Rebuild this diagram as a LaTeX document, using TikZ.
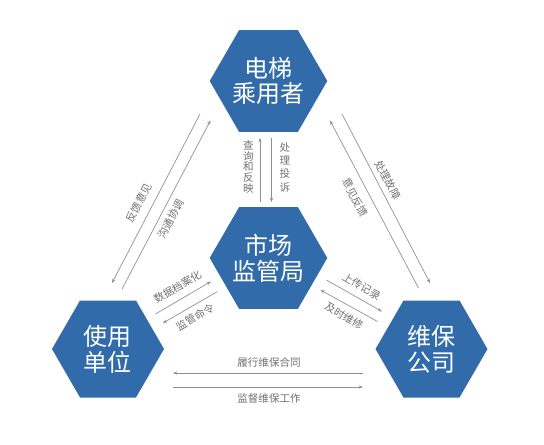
\documentclass[tikz,border=0pt]{standalone}
\usepackage{fontspec}
\newfontfamily\cjk{Noto Sans CJK SC}
\usepackage{tikz}
\usetikzlibrary{arrows.meta,shapes.geometric}
\definecolor{hexblue}{HTML}{316BAA}
\definecolor{linkgrey}{HTML}{8E8E8E}
\definecolor{labelgrey}{HTML}{707070}
\tikzset{
  party/.style      = {regular polygon, regular polygon sides=6, fill=hexblue,
                       inner sep=0pt, minimum size=84pt, text=white, align=center,
                       font=\cjk\fontsize{18}{19.3}\selectfont},
  flow/.style       = {-{Stealth[length=3.2pt,width=2.4pt]}, linkgrey, line width=0.5pt},
  flow label/.style = {text=labelgrey, inner sep=0pt,
                       font=\cjk\fontsize{7.9}{9}\selectfont},
  stack label/.style = {flow label, align=center},
}

\begin{document}
\begin{tikzpicture}[x=0.75pt,y=-0.75pt]
  \useasboundingbox (0,0) rectangle (544,444);
  % the four parties
  \node[party] (user)   at (268.5,81)  {电梯\\乘用者};
  \node[party] (bureau) at (268.5,258) {市场\\监管局};
  \node[party] (unit)   at (108,349)   {使用\\单位};
  \node[party] (maint)  at (431.5,349) {维保\\公司};
  % free ends of the arrows
  \coordinate (ask from)   at (260,202);   \coordinate (ask to)   at (260,138);
  \coordinate (handle from) at (271.5,138); \coordinate (handle to) at (271.5,202);
  \coordinate (fb from)  at (200,114);   \coordinate (fb to)  at (112,283);
  \coordinate (co from)  at (122,289);   \coordinate (co to)  at (210.5,120.5);
  \coordinate (fix from) at (342,114);   \coordinate (fix to) at (430,283);
  \coordinate (op from)  at (418.5,288); \coordinate (op to)  at (330,120.5);
  \coordinate (data from) at (155.5,314);  \coordinate (data to) at (211,281.5);
  \coordinate (cmd from)  at (217.5,291.5); \coordinate (cmd to)  at (163,323);
  \coordinate (up from)  at (326.5,280);  \coordinate (up to)  at (382,311.5);
  \coordinate (rep from) at (377.5,321.5); \coordinate (rep to) at (320.5,290);
  \coordinate (ct from)  at (363,373);   \coordinate (ct to)  at (173,373);
  \coordinate (sv from)  at (173,387);   \coordinate (sv to)  at (363,387);
  % arrows
  \draw[flow] (ask from) -- (ask to);
  \draw[flow] (handle from) -- (handle to);
  \draw[flow] (fb from) -- (fb to);
  \draw[flow] (co from) -- (co to);
  \draw[flow] (fix from) -- (fix to);
  \draw[flow] (op from) -- (op to);
  \draw[flow] (data from) -- (data to);
  \draw[flow] (cmd from) -- (cmd to);
  \draw[flow] (up from) -- (up to);
  \draw[flow] (rep from) -- (rep to);
  \draw[flow] (ct from) -- (ct to);
  \draw[flow] (sv from) -- (sv to);
  % labels
  \node[stack label, font=\cjk\fontsize{7.9}{8.1}\selectfont] (ask)
    at (248.5,167) {查\\询\\和\\反\\映};
  \node[stack label, font=\cjk\fontsize{7.9}{10}\selectfont] (handle)
    at (285,167) {处\\理\\投\\诉};
  \node[flow label, rotate=62]  (fb)   at (139,203)   {反馈意见};
  \node[flow label, rotate=62]  (co)   at (171,219)   {沟通协调};
  \node[flow label, rotate=-62] (fix)  at (388,180)   {处理故障};
  \node[flow label, rotate=-62] (op)   at (355.5,197.5) {意见反馈};
  \node[flow label, rotate=30]  (data) at (177.5,287) {数据档案化};
  \node[flow label, rotate=30]  (cmd)  at (195,317)   {监管命令};
  \node[flow label, rotate=-30] (up)   at (361.5,286.5) {上传记录};
  \node[flow label, rotate=-30] (rep)  at (344,316)   {及时维修};
  \node[flow label] (ct) at (269,362) {履行维保合同};
  \node[flow label] (sv) at (269,398) {监督维保工作};
\end{tikzpicture}
\end{document}
